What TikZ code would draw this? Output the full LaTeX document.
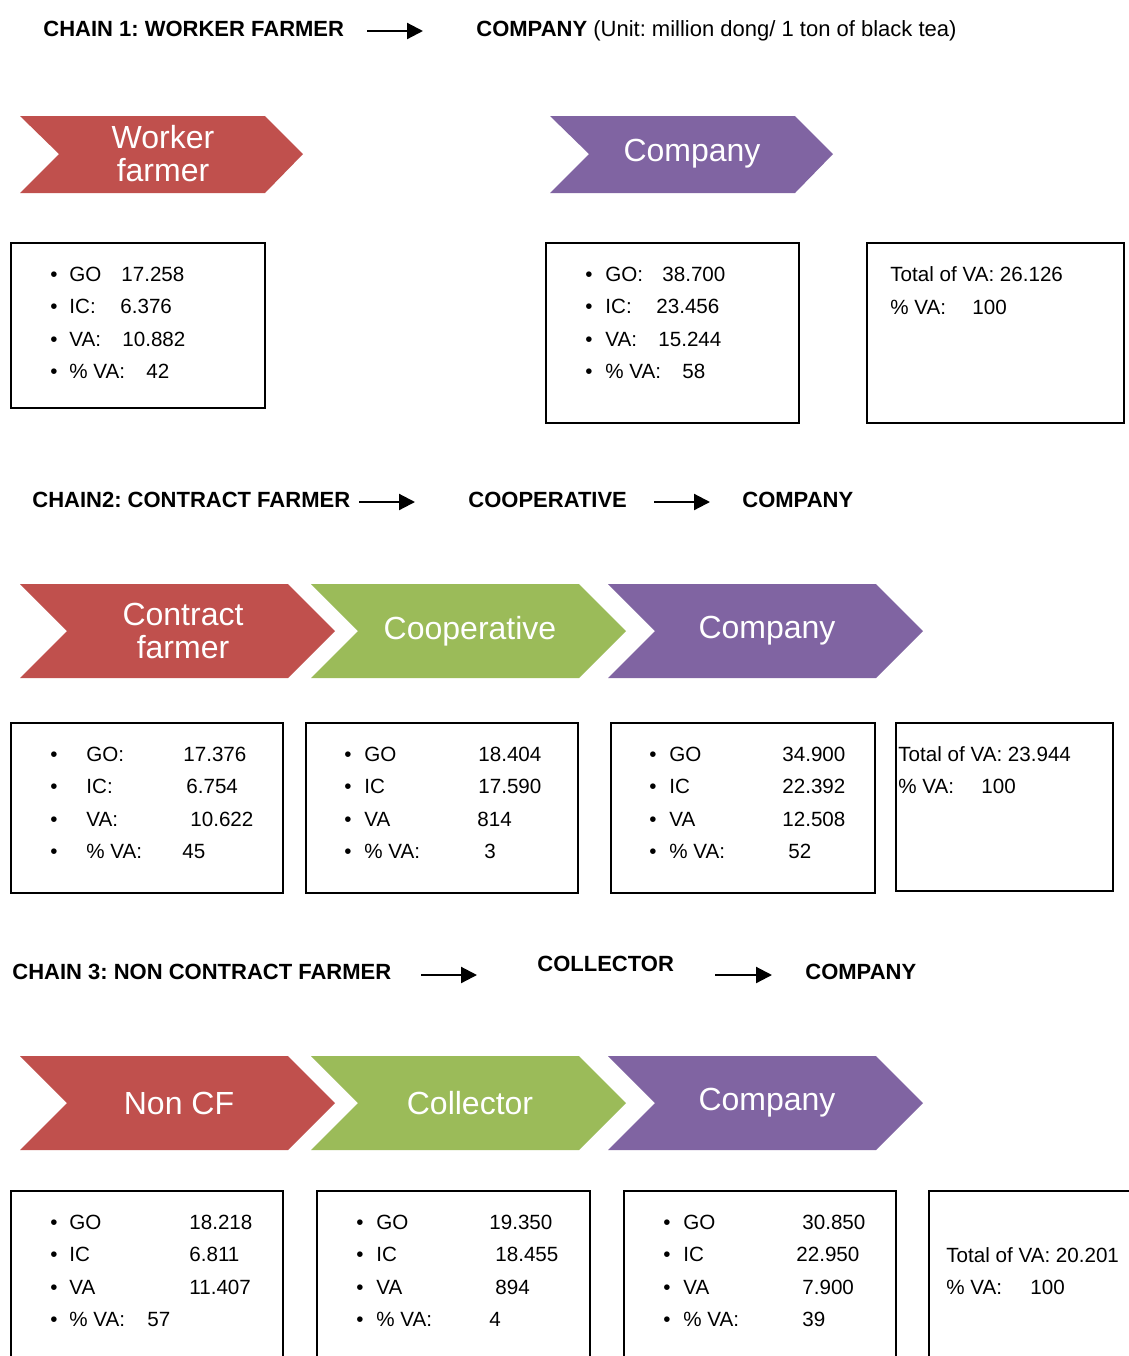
\documentclass[tikz,border=0pt]{standalone}
\usepackage{fontspec}
\setmainfont{Liberation Sans}
\usetikzlibrary{arrows.meta}
\frenchspacing
\definecolor{farmRed}{HTML}{C0504D}
\definecolor{midGreen}{HTML}{9BBB59}
\definecolor{compPurple}{HTML}{8064A2}
\tikzset{
  head/.style={anchor=base west, inner sep=0pt, font=\fontsize{11}{13}\selectfont\bfseries},
  flow/.style={line width=1.1pt, -{Triangle[length=8pt,width=8pt]}},
  chevText/.style={text=white, align=center, font=\fontsize{16}{16.5}\selectfont},
  dataBox/.style={line width=1pt, draw=black},
  cell/.style={anchor=base west, inner sep=0pt, font=\fontsize{10.3}{12}\selectfont}
}

\begin{document}
\begin{tikzpicture}[x=0.5pt, y=-0.5pt]
\clip (0,0) rectangle (1129,1356);
\fill[white] (0,0) rectangle (1129,1356);

% chain 1
\node[head] (h1a) at (43,36) {CHAIN 1: WORKER FARMER};
\coordinate (h1s) at (367,31);
\coordinate (h1e) at (423,31);
\draw[flow] (h1s) -- (h1e);
\node[head] (h1b) at (476,36) {COMPANY \mdseries(Unit: million dong/ 1 ton of black tea)};

\fill[farmRed] (20,116) -- (265,116) -- (303,154) -- (265,193) -- (20,193) -- (59,154) -- cycle;
\node[chevText] (wf) at (163,154) {Worker\\farmer};
\fill[compPurple] (550,116) -- (795,116) -- (833,154) -- (795,193) -- (550,193) -- (589,154) -- cycle;
\node[chevText] (co1) at (692,154) {Company};

\draw[dataBox] (11,243) rectangle (265,408);
\foreach \lab/\val/\vx [count=\i] in {GO/17.258/121, IC:/6.376/120, VA:/10.882/122, \% VA:/42/146}{
  \node[cell] (a1b\i) at (50,{281+32.5*(\i-1)}) {\textbullet};
  \node[cell] (a1l\i) at (69,{281+32.5*(\i-1)}) {\lab};
  \node[cell] (a1v\i) at (\vx,{281+32.5*(\i-1)}) {\val};
}
\draw[dataBox] (546,243) rectangle (799,423);
\foreach \lab/\val/\vx [count=\i] in {GO:/38.700/662, IC:/23.456/656, VA:/15.244/658, \% VA:/58/682}{
  \node[cell] (a2b\i) at (585,{281+32.5*(\i-1)}) {\textbullet};
  \node[cell] (a2l\i) at (605,{281+32.5*(\i-1)}) {\lab};
  \node[cell] (a2v\i) at (\vx,{281+32.5*(\i-1)}) {\val};
}
\draw[dataBox] (867,243) rectangle (1124,423);
\node[cell] (a3t) at (890,281) {Total of VA: 26.126};
\node[cell] (a3p) at (890,314) {\% VA:};
\node[cell] (a3v) at (972,314) {100};

% chain 2
\node[head] (h2a) at (32,507) {CHAIN2: CONTRACT FARMER};
\coordinate (h2s) at (359,502);
\coordinate (h2e) at (415,502);
\draw[flow] (h2s) -- (h2e);
\node[head] (h2b) at (468,507) {COOPERATIVE};
\coordinate (h2t) at (654,502);
\coordinate (h2f) at (710,502);
\draw[flow] (h2t) -- (h2f);
\node[head] (h2c) at (742,507) {COMPANY};

\fill[farmRed] (20,584) -- (288,584) -- (335,631) -- (288,678) -- (20,678) -- (67,631) -- cycle;
\node[chevText] (cf) at (183,631) {Contract\\farmer};
\fill[midGreen] (311,584) -- (579,584) -- (626,631) -- (579,678) -- (311,678) -- (358,631) -- cycle;
\node[chevText] (coop) at (470,631) {Cooperative};
\fill[compPurple] (608,584) -- (876,584) -- (923,631) -- (876,678) -- (608,678) -- (655,631) -- cycle;
\node[chevText] (co2) at (767,631) {Company};

\draw[dataBox] (11,723) rectangle (283,893);
\foreach \lab/\val/\vx [count=\i] in {GO:/17.376/183, IC:/6.754/186, VA:/10.622/190, \% VA:/45/182}{
  \node[cell] (b1b\i) at (50,{761+32.5*(\i-1)}) {\textbullet};
  \node[cell] (b1l\i) at (86,{761+32.5*(\i-1)}) {\lab};
  \node[cell] (b1v\i) at (\vx,{761+32.5*(\i-1)}) {\val};
}
\draw[dataBox] (306,723) rectangle (578,893);
\foreach \lab/\val/\vx [count=\i] in {GO/18.404/478, IC/17.590/478, VA/814/477, \% VA:/3/484}{
  \node[cell] (b2b\i) at (344,{761+32.5*(\i-1)}) {\textbullet};
  \node[cell] (b2l\i) at (364,{761+32.5*(\i-1)}) {\lab};
  \node[cell] (b2v\i) at (\vx,{761+32.5*(\i-1)}) {\val};
}
\draw[dataBox] (611,723) rectangle (875,893);
\foreach \lab/\val/\vx [count=\i] in {GO/34.900/782, IC/22.392/782, VA/12.508/782, \% VA:/52/788}{
  \node[cell] (b3b\i) at (649,{761+32.5*(\i-1)}) {\textbullet};
  \node[cell] (b3l\i) at (669,{761+32.5*(\i-1)}) {\lab};
  \node[cell] (b3v\i) at (\vx,{761+32.5*(\i-1)}) {\val};
}
\draw[dataBox] (896,723) rectangle (1113,891);
\node[cell] (b4t) at (898,761) {Total of VA: 23.944};
\node[cell] (b4p) at (898,793) {\% VA:};
\node[cell] (b4v) at (981,793) {100};

% chain 3
\node[head] (h3a) at (12,979) {CHAIN 3: NON CONTRACT FARMER};
\coordinate (h3s) at (421,975);
\coordinate (h3e) at (477,975);
\draw[flow] (h3s) -- (h3e);
\node[head] (h3b) at (537,971) {COLLECTOR};
\coordinate (h3t) at (715,975);
\coordinate (h3f) at (772,975);
\draw[flow] (h3t) -- (h3f);
\node[head] (h3c) at (805,979) {COMPANY};

\fill[farmRed] (20,1056) -- (288,1056) -- (335,1103) -- (288,1150) -- (20,1150) -- (67,1103) -- cycle;
\node[chevText] (ncf) at (179,1103) {Non CF};
\fill[midGreen] (311,1056) -- (579,1056) -- (626,1103) -- (579,1150) -- (311,1150) -- (358,1103) -- cycle;
\node[chevText] (coll) at (470,1103) {Collector};
\fill[compPurple] (608,1056) -- (876,1056) -- (923,1103) -- (876,1150) -- (608,1150) -- (655,1103) -- cycle;
\node[chevText] (co3) at (767,1103) {Company};

% bottom row runs off the page
\draw[dataBox] (11,1191) rectangle (283,1380);
\foreach \lab/\val/\vx [count=\i] in {GO/18.218/189, IC/6.811/189, VA/11.407/189, \% VA:/57/147}{
  \node[cell] (c1b\i) at (50,{1229+32.5*(\i-1)}) {\textbullet};
  \node[cell] (c1l\i) at (69,{1229+32.5*(\i-1)}) {\lab};
  \node[cell] (c1v\i) at (\vx,{1229+32.5*(\i-1)}) {\val};
}
\draw[dataBox] (317,1191) rectangle (590,1380);
\foreach \lab/\val/\vx [count=\i] in {GO/19.350/489, IC/18.455/495, VA/894/495, \% VA:/4/489}{
  \node[cell] (c2b\i) at (356,{1229+32.5*(\i-1)}) {\textbullet};
  \node[cell] (c2l\i) at (376,{1229+32.5*(\i-1)}) {\lab};
  \node[cell] (c2v\i) at (\vx,{1229+32.5*(\i-1)}) {\val};
}
\draw[dataBox] (624,1191) rectangle (896,1380);
\foreach \lab/\val/\vx [count=\i] in {GO/30.850/802, IC/22.950/796, VA/7.900/802, \% VA:/39/802}{
  \node[cell] (c3b\i) at (663,{1229+32.5*(\i-1)}) {\textbullet};
  \node[cell] (c3l\i) at (683,{1229+32.5*(\i-1)}) {\lab};
  \node[cell] (c3v\i) at (\vx,{1229+32.5*(\i-1)}) {\val};
}
\draw[dataBox] (929,1191) rectangle (1160,1380);
\node[cell] (c4t) at (946,1262) {Total of VA: 20.201};
\node[cell] (c4p) at (946,1294) {\% VA:};
\node[cell] (c4v) at (1030,1294) {100};
\end{tikzpicture}
\end{document}
